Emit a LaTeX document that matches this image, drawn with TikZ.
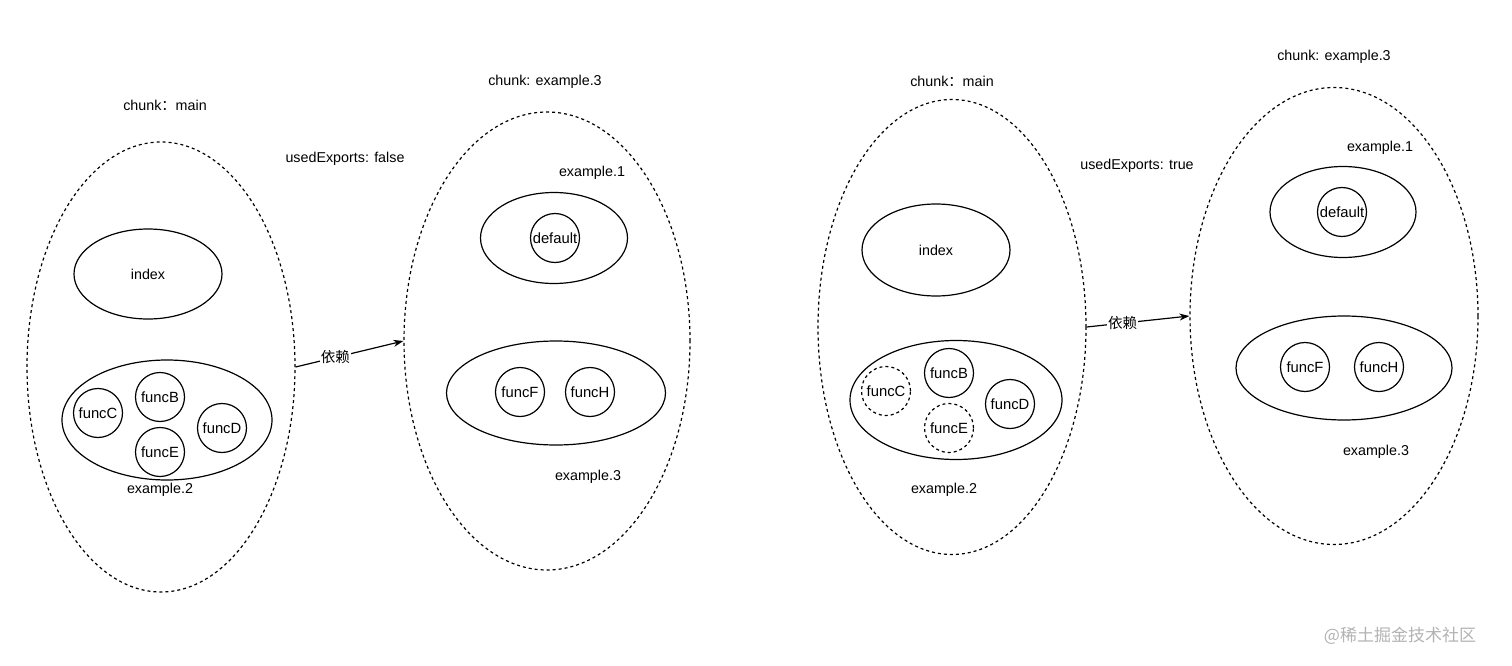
\documentclass[tikz,border=0pt]{standalone}
\usepackage{fontspec}
\setmainfont{Liberation Sans}
\newfontfamily\cjk{Noto Sans CJK SC}
\usetikzlibrary{shapes.geometric,arrows.meta}
\begin{document}
\begin{tikzpicture}[x=1pt,y=-1pt,
  every node/.style={font=\fontsize{14.3}{16}\selectfont},
  chunkbox/.style={draw,ellipse,dashed,dash pattern=on 3pt off 3pt,line width=1.2pt,inner sep=0pt},
  modbox/.style={draw,ellipse,line width=1.2pt,inner sep=0pt},
  fn/.style={draw,circle,line width=1.2pt,minimum size=49pt,inner sep=0pt,font=\fontsize{14.8}{16}\selectfont},
  fnd/.style={fn,dashed,dash pattern=on 3pt off 3pt},
  lbl/.style={inner sep=1pt},
  dep/.style={-{Stealth[length=10pt,width=7pt]},line width=1.2pt},
  deplbl/.style={fill=white,inner sep=1pt,font=\cjk\fontsize{14.5}{16}\selectfont}]
\useasboundingbox (0,0) rectangle (1512,666);
% ---------- left pair ----------
\node[chunkbox,minimum width=268pt,minimum height=450pt] (L1) at (161,367) {};
\node[lbl] (L1t) at (165,105) {chunk{\cjk ：}main};
\node[modbox,minimum width=148pt,minimum height=90pt] (Lidx) at (148,274) {index};
\node[modbox,minimum width=210pt,minimum height=120pt] (Lex2) at (167,420) {};
\node[fn] (LC) at (98,413) {funcC};
\node[fn] (LB) at (160,397) {funcB};
\node[fn] (LE) at (160,452) {funcE};
\node[fn] (LD) at (222,428) {funcD};
\node[lbl] (Lex2t) at (160,490) {example.2};
\node[lbl] (Lused) at (345,159) {usedExports: false};
\node[chunkbox,minimum width=286pt,minimum height=458pt] (L2) at (547,341) {};
\node[lbl] (L2t) at (545,82) {chunk: example.3};
\node[lbl] (Lex1t) at (592,173) {example.1};
\node[modbox,minimum width=147pt,minimum height=91pt] (Lex1) at (554,238) {};
\node[fn] (Ldef) at (555,238) {default};
\node[modbox,minimum width=219pt,minimum height=104pt] (Lex3) at (556,393) {};
\node[fn] (LF) at (520,392) {funcF};
\node[fn] (LH) at (590,392) {funcH};
\node[lbl] (Lex3t) at (588,477) {example.3};
\draw[dep] (L1.east) -- node[deplbl,pos=0.37] {依赖} (L2.west);
% ---------- right pair ----------
\node[chunkbox,minimum width=268pt,minimum height=455pt] (R1) at (952,327) {};
\node[lbl] (R1t) at (952,81) {chunk{\cjk ：}main};
\node[modbox,minimum width=148pt,minimum height=92pt] (Ridx) at (936,250) {index};
\node[modbox,minimum width=212pt,minimum height=119pt] (Rex2) at (956,400) {};
\node[fnd] (RC) at (886,391) {funcC};
\node[fn] (RB) at (949,373) {funcB};
\node[fnd] (RE) at (949,428) {funcE};
\node[fn] (RD) at (1010,404) {funcD};
\node[lbl] (Rex2t) at (944,490) {example.2};
\node[lbl] (Rused) at (1137,166) {usedExports: true};
\node[chunkbox,minimum width=288pt,minimum height=457pt] (R2) at (1334,316) {};
\node[lbl] (R2t) at (1334,57) {chunk: example.3};
\node[lbl] (Rex1t) at (1380,148) {example.1};
\node[modbox,minimum width=146pt,minimum height=91pt] (Rex1) at (1343,212) {};
\node[fn] (Rdef) at (1342,212) {default};
\node[modbox,minimum width=216pt,minimum height=104pt] (Rex3) at (1344,368) {};
\node[fn] (RF) at (1305,367) {funcF};
\node[fn] (RH) at (1379,367) {funcH};
\node[lbl] (Rex3t) at (1376,452) {example.3};
\draw[dep] (R1.east) -- node[deplbl,pos=0.35] {依赖} (R2.west);
% watermark
\node[lbl,text=black!30,font=\cjk\fontsize{17}{19}\selectfont] (wm) at (1400,636) {@稀土掘金技术社区};
\end{tikzpicture}
\end{document}
